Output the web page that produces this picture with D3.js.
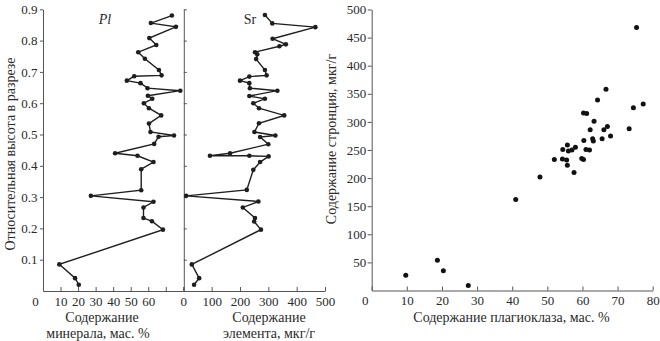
<!DOCTYPE html>
<html><head><meta charset="utf-8">
<script src="https://cdn.jsdelivr.net/npm/d3@7"></script>
<style>
html,body{margin:0;padding:0;background:#fff;}
svg text{font-family:"Liberation Serif","Times New Roman",serif;fill:#2a2a2a;}
</style></head>
<body><svg id="c" width="660" height="341"></svg>
<script>
// ---- data ----
const plHeight = [0.880,0.856,0.844,0.808,0.786,0.763,0.742,0.706,0.689,0.686,0.672,0.664,0.648,0.640,0.624,0.614,0.600,0.584,0.561,0.535,0.508,0.497,0.493,0.470,0.440,0.432,0.412,0.389,0.322,0.304,0.285,0.267,0.233,0.223,0.196,0.085,0.041,0.020];
const plValue  = [73.5,61.5,75.8,60.6,64.6,54.3,58.1,66.1,67.6,52.0,47.8,55.6,59.6,78.3,59.8,62.3,57.5,60.4,67.4,60.4,61.3,74.7,65.9,63.4,41.1,53.9,63.0,56.0,56.0,27.3,63.0,57.3,57.3,62.1,68.4,9.3,18.3,20.4];

const srHeight = [0.882,0.855,0.843,0.806,0.788,0.782,0.763,0.756,0.741,0.706,0.689,0.685,0.672,0.664,0.648,0.640,0.623,0.614,0.600,0.584,0.561,0.536,0.508,0.497,0.492,0.469,0.440,0.432,0.432,0.430,0.412,0.387,0.323,0.304,0.286,0.267,0.233,0.222,0.196,0.085,0.041,0.020];
const srValue  = [288,314,466,315,362,339,253,261,257,288,294,233,200,233,235,332,233,288,247,267,356,267,251,325,271,300,165,94,233,301,271,247,224,10,265,210,253,250,274,30,56,38];

const scatPl = [75.4,66.7,64.3,74.5,77.3,60.3,61.2,63.3,73.3,67.1,66.1,62.2,68.0,65.6,62.9,63.1,60.4,61.0,62.0,55.7,58.0,57.0,56.0,54.4,52.0,54.3,55.5,59.8,60.3,55.7,57.6,47.9,41.0,18.7,20.4,9.7,27.5];
const scatSr = [468,358,339,325,332,316,315,301,288,292,286,286,275,270,270,266,267,251,250,259,255,250,248,251,233,234,232,235,233,223,210,202,162,54,35,27,9];

const heightTicks = [0.1,0.2,0.3,0.4,0.5,0.6,0.7,0.8,0.9];
const plTicks = [0,10,20,30,40,50,60,70,80];
const plTickLabels = ["0","10","20","30","40","50","60","",""];
const srTicks = [0,100,200,300,400,500];
const scatXTicks = [0,10,20,30,40,50,60,70,80];
const scatYTicks = [50,100,150,200,250,300,350,400,450,500];

// ---- layout ----
const svg = d3.select("#c");
const axisColor = "#555";
const yH = d3.scaleLinear().domain([0,0.9]).range([291,9.3]);
const xPl = d3.scaleLinear().domain([0,80]).range([43,183.3]);
const xSr = d3.scaleLinear().domain([0,500]).range([183.3,325]);
const xS = d3.scaleLinear().domain([0,80]).range([371.7,652.7]);
const yS = d3.scaleLinear().domain([0,500]).range([290.5,9.5]);

function styleAxis(g){
  g.selectAll("path,line").attr("stroke",axisColor).attr("stroke-width",1);
  g.selectAll("text").attr("font-family","Liberation Serif").attr("font-size",13).attr("fill","#2a2a2a");
}

// left panel axes
svg.append("g").attr("transform","translate(43,0)")
  .call(d3.axisLeft(yH).tickValues(heightTicks).tickFormat(d3.format(".1f")).tickSize(3).tickSizeOuter(0).tickPadding(2.5))
  .call(styleAxis);
svg.append("g").attr("transform","translate(0,291)")
  .call(d3.axisBottom(xPl).tickValues(plTicks).tickFormat((d,i)=>plTickLabels[i]).tickSize(-4).tickSizeOuter(0).tickPadding(5.3))
  .call(styleAxis)
  .call(g=>g.selectAll(".tick text").filter(d=>d===0).attr("dx",-8));

// middle panel axes
svg.append("g").attr("transform","translate(183.8,0)")
  .call(d3.axisLeft(yH).tickValues(heightTicks).tickFormat("").tickSize(-3).tickSizeOuter(0))
  .call(styleAxis);
svg.append("g").attr("transform","translate(0,291)")
  .call(d3.axisBottom(xSr).tickValues(srTicks).tickSize(-4).tickSizeOuter(0).tickPadding(5.3))
  .call(styleAxis);

// right panel axes
svg.append("g").attr("transform","translate(371.7,0)")
  .call(d3.axisLeft(yS).tickValues(scatYTicks).tickSize(4).tickSizeOuter(0).tickPadding(1.5))
  .call(styleAxis);
svg.append("g").attr("transform","translate(0,290.5)")
  .call(d3.axisBottom(xS).tickValues(scatXTicks).tickSize(-4).tickSizeOuter(0).tickPadding(5.3))
  .call(styleAxis)
  .call(g=>g.selectAll(".tick text").filter(d=>d===0).attr("dx",-7));

// ---- profiles ----
const lineCol = "#1e1e1e";
const plData = plHeight.map((h,i)=>({h,v:plValue[i]}));
const srData = srHeight.map((h,i)=>({h,v:srValue[i]}));

svg.append("path").datum(plData)
  .attr("d", d3.line().x(d=>xPl(d.v)).y(d=>yH(d.h)))
  .attr("fill","none").attr("stroke",lineCol).attr("stroke-width",1.4);
svg.append("g").selectAll("circle").data(plData).join("circle")
  .attr("cx",d=>xPl(d.v)).attr("cy",d=>yH(d.h)).attr("r",2.3).attr("fill",lineCol);

svg.append("path").datum(srData)
  .attr("d", d3.line().x(d=>xSr(d.v)).y(d=>yH(d.h)))
  .attr("fill","none").attr("stroke",lineCol).attr("stroke-width",1.4);
svg.append("g").selectAll("circle").data(srData).join("circle")
  .attr("cx",d=>xSr(d.v)).attr("cy",d=>yH(d.h)).attr("r",2.3).attr("fill",lineCol);

// ---- scatter ----
svg.append("g").selectAll("circle").data(scatPl.map((p,i)=>({p,s:scatSr[i]}))).join("circle")
  .attr("cx",d=>xS(d.p)).attr("cy",d=>yS(d.s)).attr("r",2.5).attr("fill","#111");

// ---- texts ----
svg.append("text").attr("x",105).attr("y",24).attr("text-anchor","middle")
  .attr("font-size",14).attr("font-style","italic").text("Pl");
svg.append("text").attr("x",250).attr("y",24).attr("text-anchor","middle")
  .attr("font-size",14).text("Sr");

svg.append("text").attr("transform","translate(14.5,154) rotate(-90)").attr("text-anchor","middle")
  .attr("font-size",14).text("Относительная высота в разрезе");
svg.append("text").attr("transform","translate(336,139) rotate(-90)").attr("text-anchor","middle")
  .attr("font-size",14).text("Содержание стронция, мкг/г");

svg.append("text").attr("x",102).attr("y",321.5).attr("text-anchor","middle").attr("font-size",14).text("Содержание");
svg.append("text").attr("x",98).attr("y",337.5).attr("text-anchor","middle").attr("font-size",14).text("минерала, мас. %");
svg.append("text").attr("x",269).attr("y",321.5).attr("text-anchor","middle").attr("font-size",14).text("Содержание");
svg.append("text").attr("x",269).attr("y",337.5).attr("text-anchor","middle").attr("font-size",14).text("элемента, мкг/г");
svg.append("text").attr("x",511.5).attr("y",321.5).attr("text-anchor","middle").attr("font-size",14).text("Содержание плагиоклаза, мас. %");
</script>
</body></html>
